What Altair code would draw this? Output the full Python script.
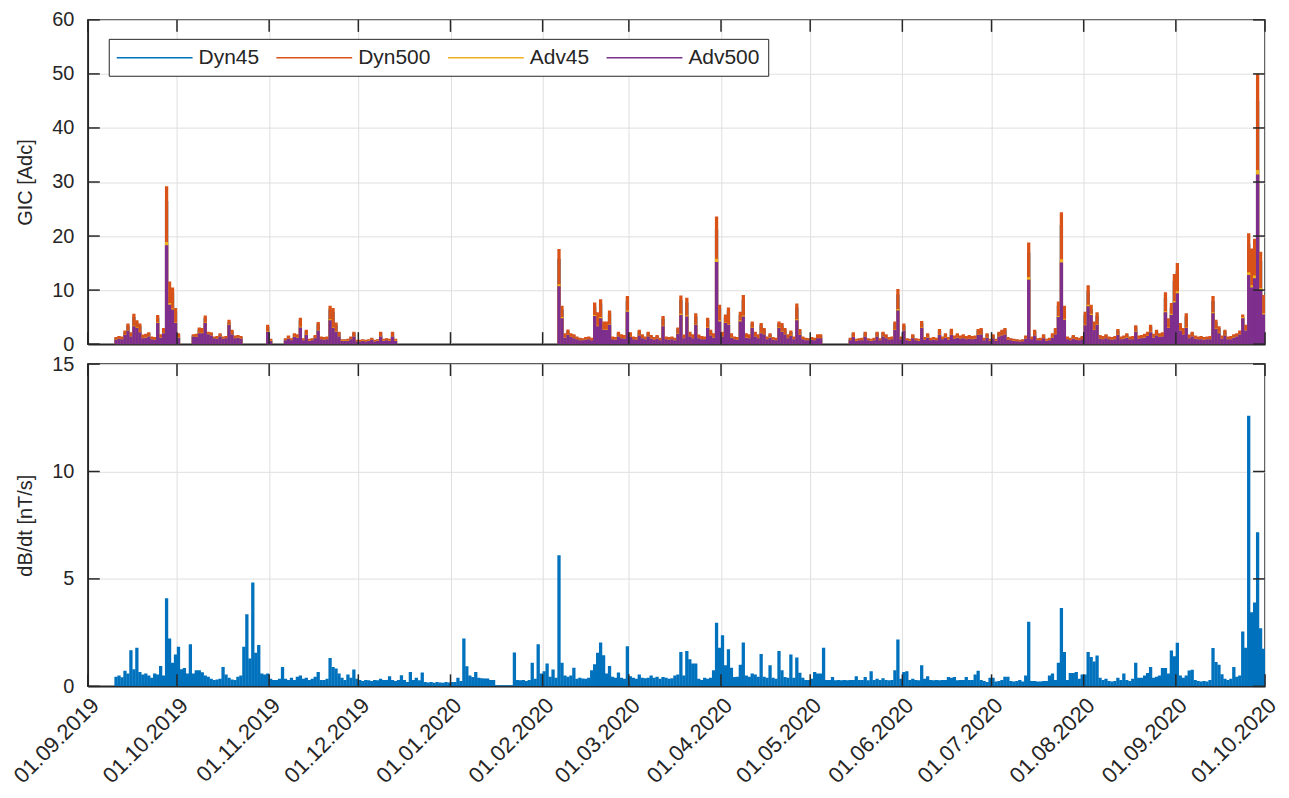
import altair as alt
import pandas as pd

FONT = "Liberation Sans"
INK = "#262626"
W = 1180
H_TOP = 325
H_BOT = 323

SERIES = ["Dyn45", "Dyn500", "Adv45", "Adv500"]
COLORS = ["#0072BD", "#D95319", "#EDB120", "#7E2F8E"]
DBDT_COLOR = "#0072BD"

month_ticks = ["2019-09-01", "2019-10-01", "2019-11-01", "2019-12-01", "2020-01-01",
               "2020-02-01", "2020-03-01", "2020-04-01", "2020-05-01", "2020-06-01",
               "2020-07-01", "2020-08-01", "2020-09-01", "2020-10-01"]
gic_ticks = [0, 10, 20, 30, 40, 50, 60]
dbdt_ticks = [0, 5, 10, 15]

# ---------------- GIC daily peak values (segments with data) ----------------
gic_seg_starts = ["2019-09-10", "2019-10-06", "2019-10-31", "2019-11-06", "2020-02-06", "2020-05-14"]

dyn500_a = [1.3, 1.5, 1.4, 2.5, 3.8, 2.2, 5.6, 4.4, 3.8, 1.8,
            1.9, 2.2, 1.4, 1.3, 5.4, 1.85, 3.0, 29.2, 11.6, 10.5,
            6.7, 2.0]
adv500_a = [0.8, 1.0, 0.9, 1.7, 2.5, 1.4, 3.3, 3.0, 2.2, 1.1,
            1.2, 1.4, 0.9, 0.8, 3.9, 1.2, 2.0, 18.3, 7.3, 6.4,
            3.9, 1.2]
adv45_a = [0.85, 1.05, 0.95, 1.75, 2.6, 1.45, 3.4, 3.1, 2.3, 1.15,
           1.25, 1.45, 0.95, 0.85, 4.0, 1.25, 2.1, 18.9, 7.6, 6.6,
           4.0, 1.25]
dyn45_a = [1.2, 1.35, 1.25, 2.2, 3.4, 2.0, 5.0, 4.0, 3.4, 1.6,
           1.7, 2.0, 1.25, 1.2, 4.9, 1.65, 2.7, 26.5, 10.5, 9.5,
           6.0, 1.8]

dyn500_b = [1.85, 1.9, 3.1, 3.0, 5.3, 2.3, 2.2, 1.4, 1.5, 2.0, 1.4, 1.5, 4.5, 2.65, 1.6, 1.7, 1.5]
adv500_b = [1.4, 1.3, 2.0, 2.0, 3.9, 1.85, 1.6, 1.1, 1.0, 1.4, 1.0, 1.1, 3.6, 1.8, 1.1, 1.2, 1.0]
adv45_b = [1.45, 1.35, 2.1, 2.1, 4.0, 1.9, 1.65, 1.15, 1.05, 1.45, 1.05, 1.15, 3.7, 1.85, 1.15, 1.25, 1.05]
dyn45_b = [1.65, 1.7, 2.8, 2.7, 4.8, 2.1, 2.0, 1.25, 1.35, 1.8, 1.25, 1.35, 4.0, 2.4, 1.45, 1.5, 1.35]

dyn500_c = [3.6, 1.0]
adv500_c = [2.3, 0.6]
adv45_c = [2.4, 0.65]
dyn45_c = [3.2, 0.9]

dyn500_d = [1.1, 1.6, 1.1, 2.0, 1.85, 4.9, 1.1, 2.65, 1.0, 1.1,
            1.7, 4.1, 1.4, 1.3, 1.4, 7.1, 6.7, 4.0, 2.3, 0.9,
            0.9, 1.0, 1.4, 2.3, 0.8, 0.8, 0.9, 0.8, 0.9, 1.2,
            0.8, 0.9, 2.3, 1.0, 1.1, 1.0, 2.3, 1.0]
adv500_d = [0.7, 1.0, 0.7, 1.3, 1.2, 3.1, 0.7, 1.7, 0.6, 0.7,
            1.1, 2.5, 0.9, 0.8, 0.9, 4.4, 3.0, 2.3, 1.4, 0.6,
            0.6, 0.6, 0.9, 1.4, 0.5, 0.5, 0.6, 0.5, 0.6, 0.8,
            0.5, 0.6, 1.4, 0.6, 0.7, 0.6, 1.4, 0.6]
adv45_d = [0.75, 1.05, 0.75, 1.35, 1.25, 3.2, 0.75, 1.75, 0.65, 0.75,
           1.15, 2.6, 0.95, 0.85, 0.95, 4.6, 3.1, 2.4, 1.45, 0.65,
           0.65, 0.65, 0.95, 1.45, 0.55, 0.55, 0.65, 0.55, 0.65, 0.85,
           0.55, 0.65, 1.45, 0.65, 0.75, 0.65, 1.45, 0.65]
dyn45_d = [1.0, 1.45, 1.0, 1.8, 1.65, 4.4, 1.0, 2.4, 0.9, 1.0,
           1.5, 3.7, 1.25, 1.2, 1.25, 6.4, 6.0, 3.6, 2.1, 0.8,
           0.8, 0.9, 1.25, 2.1, 0.7, 0.7, 0.8, 0.7, 0.8, 1.1,
           0.7, 0.8, 2.1, 0.9, 1.0, 0.9, 2.1, 0.9]

dyn500_e = [17.6, 7.1, 2.0, 2.7, 2.0, 1.85, 1.4, 1.2, 1.1, 1.3,
            1.4, 1.2, 7.7, 5.9, 8.3, 4.2, 4.2, 6.2, 1.4, 1.3,
            2.3, 1.85, 1.7, 8.9, 2.2, 1.4, 1.3, 2.65, 1.85, 1.4,
            2.3, 1.7, 1.3, 1.7, 1.2, 5.2, 1.4, 1.3, 1.4, 1.2,
            3.1, 9.0, 1.8, 8.6, 2.3, 1.85, 5.7, 1.8, 1.5, 1.4,
            4.9, 2.65, 2.0, 23.6, 7.3, 2.3, 5.5, 6.8, 2.0, 1.4,
            1.3, 6.0, 9.1, 2.0, 1.85, 4.2, 2.3, 1.85, 3.9, 3.0,
            1.4, 2.0, 1.3, 1.2, 4.2, 3.9, 3.0, 1.85, 2.5, 1.4,
            7.5, 2.8, 1.4, 1.2, 1.1, 1.3, 1.2, 1.85, 1.85]
adv500_e = [10.7, 4.8, 1.2, 1.7, 1.3, 1.1, 0.9, 0.7, 0.7, 0.8,
            0.9, 0.7, 5.2, 3.3, 4.8, 2.65, 2.6, 3.6, 0.9, 0.8,
            1.4, 1.1, 1.0, 6.0, 1.3, 0.9, 0.8, 1.6, 1.1, 0.9,
            1.4, 1.0, 0.8, 1.0, 0.7, 3.3, 0.9, 0.8, 0.9, 0.7,
            1.9, 5.4, 1.1, 5.1, 1.4, 1.1, 3.6, 1.1, 0.9, 0.9,
            3.0, 1.6, 1.2, 15.2, 4.2, 1.4, 3.9, 3.6, 1.2, 0.9,
            0.8, 4.2, 5.1, 1.2, 1.1, 3.0, 1.4, 1.1, 2.0, 1.8,
            0.9, 1.2, 0.8, 0.7, 3.0, 2.3, 1.8, 1.1, 1.5, 0.9,
            4.4, 1.7, 0.9, 0.7, 0.7, 0.8, 0.7, 1.1, 1.1]
adv45_e = [11.1, 5.0, 1.25, 1.75, 1.35, 1.15, 0.95, 0.75, 0.75, 0.85,
           0.95, 0.75, 5.4, 3.4, 5.0, 2.75, 2.7, 3.7, 0.95, 0.85,
           1.45, 1.15, 1.05, 6.2, 1.35, 0.95, 0.85, 1.65, 1.15, 0.95,
           1.45, 1.05, 0.85, 1.05, 0.75, 3.4, 0.95, 0.85, 0.95, 0.75,
           2.0, 5.6, 1.15, 5.3, 1.45, 1.15, 3.7, 1.15, 0.95, 0.95,
           3.1, 1.65, 1.25, 15.8, 4.4, 1.45, 4.0, 3.7, 1.25, 0.95,
           0.85, 4.4, 5.3, 1.25, 1.15, 3.1, 1.45, 1.15, 2.1, 1.85,
           0.95, 1.25, 0.85, 0.75, 3.1, 2.4, 1.85, 1.15, 1.55, 0.95,
           4.6, 1.75, 0.95, 0.75, 0.75, 0.85, 0.75, 1.15, 1.15]
dyn45_e = [15.8, 6.4, 1.8, 2.4, 1.8, 1.65, 1.25, 1.1, 1.0, 1.15,
           1.25, 1.1, 6.9, 5.3, 7.5, 3.8, 3.8, 5.6, 1.25, 1.15,
           2.1, 1.65, 1.5, 8.0, 2.0, 1.25, 1.15, 2.4, 1.65, 1.25,
           2.1, 1.5, 1.15, 1.5, 1.1, 4.7, 1.25, 1.15, 1.25, 1.1,
           2.8, 8.1, 1.6, 7.7, 2.1, 1.65, 5.1, 1.6, 1.35, 1.25,
           4.4, 2.4, 1.8, 21.2, 6.6, 2.1, 5.0, 6.1, 1.8, 1.25,
           1.15, 5.4, 8.2, 1.8, 1.65, 3.8, 2.1, 1.65, 3.5, 2.7,
           1.25, 1.8, 1.15, 1.1, 3.8, 3.5, 2.7, 1.65, 2.25, 1.25,
           6.8, 2.5, 1.25, 1.1, 1.0, 1.15, 1.1, 1.65, 1.65]

dyn500_f = [1.2, 2.2, 1.0, 1.1, 1.2, 2.3, 1.1, 1.0, 1.2, 2.3,
            1.1, 2.3, 1.85, 1.3, 1.4, 4.2, 10.2, 1.4, 3.8, 1.1,
            1.0, 1.85, 1.1, 1.0, 4.3, 1.3, 2.0, 1.2, 1.3, 1.2,
            2.8, 1.4, 2.0, 1.3, 2.85, 1.6, 2.0, 1.6, 1.85, 1.5,
            1.7, 1.5, 1.6, 2.8, 3.0, 1.2, 2.0, 1.0, 1.85, 1.0,
            2.3, 2.65, 3.0, 1.3, 1.1, 1.0, 0.9, 0.8, 0.9, 1.6,
            18.8, 1.4, 2.65, 1.1, 1.2, 1.85, 1.0, 1.2, 2.0, 3.0,
            7.9, 24.4, 7.1, 1.4, 1.2, 1.7, 1.3, 1.2, 1.5, 6.0,
            10.9, 7.3, 4.2, 5.9, 1.7, 1.5, 1.85, 1.4, 1.3, 1.5,
            2.8, 1.4, 1.6, 2.0, 1.4, 1.5, 3.5, 1.6, 1.7, 1.9,
            2.3, 3.6, 1.9, 2.65, 2.0, 2.2, 9.6, 4.8, 7.6, 13.0,
            15.0, 3.9, 3.0, 5.7, 1.8, 2.3, 1.6, 1.4, 1.5, 1.3,
            1.4, 1.5, 8.9, 4.5, 3.3, 1.6, 2.65, 1.4, 1.5, 1.85,
            2.0, 2.5, 5.5, 3.6, 20.5, 17.7, 19.5, 50.0, 17.1, 9.1]
adv500_f = [0.7, 1.3, 0.6, 0.7, 0.7, 1.4, 0.7, 0.6, 0.7, 1.4,
            0.7, 1.4, 1.1, 0.8, 0.9, 2.6, 6.2, 0.9, 2.5, 0.7,
            0.6, 1.1, 0.7, 0.6, 3.0, 0.8, 1.2, 0.7, 0.8, 0.7,
            1.7, 0.9, 1.2, 0.8, 1.7, 1.0, 1.2, 1.0, 1.1, 0.9,
            1.0, 0.9, 1.0, 1.7, 1.8, 0.7, 1.2, 0.6, 1.1, 0.6,
            1.4, 1.6, 1.8, 0.8, 0.7, 0.6, 0.55, 0.5, 0.55, 1.0,
            11.9, 0.9, 1.6, 0.7, 0.7, 1.1, 0.6, 0.7, 1.2, 1.8,
            5.0, 15.1, 4.5, 0.9, 0.7, 1.0, 0.8, 0.7, 0.9, 3.5,
            7.0, 5.4, 2.6, 3.6, 1.0, 0.9, 1.1, 0.9, 0.8, 0.9,
            1.7, 0.9, 1.0, 1.2, 0.9, 0.9, 2.3, 1.0, 1.1, 1.2,
            1.5, 2.2, 1.2, 1.6, 1.3, 1.4, 5.9, 3.0, 5.4, 7.7,
            9.4, 2.5, 1.8, 3.0, 1.1, 1.4, 1.0, 0.9, 0.9, 0.8,
            0.9, 0.9, 5.7, 2.8, 2.0, 1.0, 1.6, 0.9, 0.9, 1.2,
            1.4, 1.8, 4.8, 2.5, 12.8, 10.5, 12.2, 31.4, 10.0, 5.5]
adv45_f = [0.75, 1.35, 0.65, 0.75, 0.75, 1.45, 0.75, 0.65, 0.75, 1.45,
           0.75, 1.45, 1.15, 0.85, 0.95, 2.7, 6.5, 0.95, 2.6, 0.75,
           0.65, 1.15, 0.75, 0.65, 3.1, 0.85, 1.25, 0.75, 0.85, 0.75,
           1.75, 0.95, 1.25, 0.85, 1.75, 1.05, 1.25, 1.05, 1.15, 0.95,
           1.05, 0.95, 1.05, 1.75, 1.85, 0.75, 1.25, 0.65, 1.15, 0.65,
           1.45, 1.65, 1.85, 0.85, 0.75, 0.65, 0.6, 0.55, 0.6, 1.05,
           12.4, 0.95, 1.65, 0.75, 0.75, 1.15, 0.65, 0.75, 1.25, 1.85,
           5.2, 15.7, 4.7, 0.95, 0.75, 1.05, 0.85, 0.75, 0.95, 3.6,
           7.3, 5.6, 2.7, 3.7, 1.05, 0.95, 1.15, 0.95, 0.85, 0.95,
           1.75, 0.95, 1.05, 1.25, 0.95, 0.95, 2.4, 1.05, 1.15, 1.25,
           1.55, 2.3, 1.25, 1.65, 1.35, 1.45, 6.1, 3.1, 5.6, 8.0,
           9.8, 2.6, 1.85, 3.1, 1.15, 1.45, 1.05, 0.95, 0.95, 0.85,
           0.95, 0.95, 5.9, 2.9, 2.1, 1.05, 1.65, 0.95, 0.95, 1.25,
           1.45, 1.85, 5.0, 2.6, 13.3, 10.9, 12.7, 32.2, 10.4, 5.7]
dyn45_f = [1.1, 2.0, 0.9, 1.0, 1.1, 2.1, 1.0, 0.9, 1.1, 2.1,
           1.0, 2.1, 1.65, 1.15, 1.25, 3.8, 9.2, 1.25, 3.4, 1.0,
           0.9, 1.65, 1.0, 0.9, 3.9, 1.15, 1.8, 1.1, 1.15, 1.1,
           2.5, 1.25, 1.8, 1.15, 2.55, 1.45, 1.8, 1.45, 1.65, 1.35,
           1.5, 1.35, 1.45, 2.5, 2.7, 1.1, 1.8, 0.9, 1.65, 0.9,
           2.1, 2.4, 2.7, 1.15, 1.0, 0.9, 0.8, 0.7, 0.8, 1.45,
           16.9, 1.25, 2.4, 1.0, 1.1, 1.65, 0.9, 1.1, 1.8, 2.7,
           7.1, 22.0, 6.4, 1.25, 1.1, 1.5, 1.15, 1.1, 1.35, 5.4,
           9.8, 6.6, 3.8, 5.3, 1.5, 1.35, 1.65, 1.25, 1.15, 1.35,
           2.5, 1.25, 1.45, 1.8, 1.25, 1.35, 3.2, 1.45, 1.5, 1.7,
           2.1, 3.2, 1.7, 2.4, 1.8, 2.0, 8.6, 4.3, 6.8, 11.7,
           13.5, 3.5, 2.7, 5.1, 1.6, 2.1, 1.45, 1.25, 1.35, 1.15,
           1.25, 1.35, 8.0, 4.0, 3.0, 1.45, 2.4, 1.25, 1.35, 1.65,
           1.8, 2.25, 5.0, 3.2, 18.5, 15.9, 17.6, 45.0, 15.4, 8.2]

gic_values = {
    "Dyn45": [dyn45_a, dyn45_b, dyn45_c, dyn45_d, dyn45_e, dyn45_f],
    "Dyn500": [dyn500_a, dyn500_b, dyn500_c, dyn500_d, dyn500_e, dyn500_f],
    "Adv45": [adv45_a, adv45_b, adv45_c, adv45_d, adv45_e, adv45_f],
    "Adv500": [adv500_a, adv500_b, adv500_c, adv500_d, adv500_e, adv500_f],
}

# ---------------- dB/dt daily peak values ----------------
dbdt_seg_starts = ["2019-09-10", "2020-01-22"]
dbdt_1 = [0.45, 0.5, 0.42, 0.72, 0.6, 1.68, 0.8, 1.79, 0.67, 0.55,
          0.6, 0.5, 0.4, 0.6, 0.55, 0.95, 0.5, 4.1, 2.23, 1.1,
          1.48, 1.84, 0.8, 0.85, 0.6, 1.96, 0.6, 0.75, 0.75, 0.65,
          0.5, 0.45, 0.35, 0.3, 0.32, 0.35, 0.9, 0.55, 0.4, 0.32,
          0.3, 0.45, 0.5, 1.84, 3.36, 1.3, 4.83, 1.56, 1.92, 0.6,
          0.55, 0.6, 0.35, 0.3, 0.3, 0.35, 0.9, 0.35, 0.3, 0.4,
          0.3, 0.45, 0.5, 0.35, 0.4, 0.3, 0.35, 0.45, 0.67, 0.3,
          0.3, 0.35, 1.32, 0.9, 0.83, 0.6, 0.4, 0.3, 0.55, 0.4,
          0.78, 0.35, 0.3, 0.25, 0.3, 0.28, 0.25, 0.3, 0.28, 0.35,
          0.3, 0.3, 0.47, 0.3, 0.25, 0.3, 0.52, 0.3, 0.2, 0.67,
          0.3, 0.4, 0.28, 0.64, 0.2, 0.18, 0.2, 0.17, 0.2, 0.18,
          0.17, 0.2, 0.18, 0.2, 0.2, 0.4, 0.25, 2.23, 0.93, 0.5,
          0.43, 0.67, 0.4, 0.38, 0.36, 0.36, 0.3, 0.3,
          0.05, 0.05, 0.05, 0.05, 0.05, 0.05]
dbdt_2 = [1.57, 0.3, 0.28, 0.3, 0.25, 0.3, 1.1, 0.35, 1.96, 0.6,
          0.7, 1.06, 0.45, 0.78, 0.4, 6.1, 1.1, 0.5, 0.45, 0.5,
          0.87, 0.35, 0.4, 0.36, 0.35, 0.4, 0.75, 1.03, 1.56, 2.04,
          1.45, 0.6, 0.95, 0.45, 0.4, 0.64, 0.4, 0.35, 1.87, 0.47,
          0.4, 0.35, 0.55, 0.4, 0.38, 0.4, 0.5, 0.4, 0.45, 0.35,
          0.43, 0.4, 0.35, 0.38, 0.5, 0.55, 1.6, 0.5, 1.65, 1.26,
          1.06, 1.06, 0.35, 0.3, 0.4, 0.35, 0.4, 0.75, 2.96, 1.8,
          2.38, 0.98, 1.73, 0.86, 0.43, 0.45, 1.0, 2.04, 0.5, 0.45,
          0.6, 0.55, 0.45, 1.5, 0.45, 0.4, 0.98, 0.4, 0.35, 1.65,
          0.75, 0.43, 0.4, 1.48, 0.4, 1.34, 0.63, 0.4, 0.3, 0.3,
          0.35, 0.67, 0.6, 0.6, 1.79, 0.3, 0.3, 0.43, 0.28, 0.3,
          0.28, 0.3, 0.28, 0.3, 0.3, 0.47, 0.3, 0.3, 0.43, 0.28,
          0.7, 0.3, 0.35, 0.3, 0.38, 0.3, 0.28, 0.3, 0.75, 2.18,
          0.35, 0.67, 0.7, 0.3, 0.35, 0.3, 0.28, 0.98, 0.35, 0.47,
          0.3, 0.28, 0.3, 0.28, 0.3, 0.3, 0.43, 0.4, 0.43, 0.28,
          0.3, 0.3, 0.43, 0.3, 0.3, 0.55, 0.72, 0.3, 0.25, 0.2,
          0.4, 0.4, 0.22, 0.25, 0.3, 0.45, 0.45, 0.25, 0.22, 0.25,
          0.3, 0.22, 0.5, 3.0, 0.25, 0.25, 0.22, 0.22, 0.25, 0.25,
          0.5, 0.6, 0.3, 1.1, 3.64, 1.6, 0.3, 0.62, 0.62, 0.67,
          0.35, 0.55, 0.55, 1.6, 1.36, 1.16, 1.44, 0.4, 0.3, 0.35,
          0.25, 0.22, 0.25, 0.4, 0.3, 0.6, 0.3, 0.25, 0.35, 1.1,
          0.4, 0.4, 0.5, 0.62, 0.9, 0.4, 0.45, 0.5, 0.85, 0.85,
          0.6, 1.67, 1.4, 2.03, 0.5, 0.4, 0.5, 0.74, 0.77, 0.3,
          0.25, 0.22, 0.25, 0.22, 0.3, 1.78, 1.13, 1.0, 0.56, 0.35,
          0.3, 0.35, 0.9, 0.45, 0.5, 2.55, 1.8, 12.6, 3.45, 3.9,
          7.17, 2.7, 1.75]


def day_rows(start, values, series):
    t0 = pd.Timestamp(start) + pd.Timedelta(hours=12)
    return [{"t": t0 + pd.Timedelta(days=i), "v": v, "series": series, "zero": 0.0}
            for i, v in enumerate(values)]


gic_rows = []
for s in SERIES:
    for start, vals in zip(gic_seg_starts, gic_values[s]):
        gic_rows += day_rows(start, vals, s)
gic_df = pd.DataFrame(gic_rows)

dbdt_rows = []
for start, vals in zip(dbdt_seg_starts, [dbdt_1, dbdt_2]):
    dbdt_rows += day_rows(start, vals, "dBdt")
dbdt_df = pd.DataFrame(dbdt_rows)


def dt(s):
    y, m, d = map(int, s.split("-"))
    return alt.DateTime(year=y, month=m, date=d)


tick_dt = [dt(s) for s in month_ticks]
x_scale = alt.Scale(domain=[dt(month_ticks[0]), dt(month_ticks[-1])], nice=False)

top_xaxis = alt.Axis(values=tick_dt, labels=False, ticks=False, title=None, grid=True, domain=True)
bot_xaxis = alt.Axis(values=tick_dt, format="%d.%m.%Y", labelAngle=315, labelAlign="right",
                     labelBaseline="top", labelPadding=8, labelFlush=False, labelFontSize=22,
                     labelOverlap=False, ticks=False, title=None, grid=True)
gic_yscale = alt.Scale(domain=[0, 60], nice=False)
dbdt_yscale = alt.Scale(domain=[0, 15], nice=False)
gic_yaxis = alt.Axis(values=gic_ticks, title="GIC [Adc]", labelFlush=False, ticks=False, grid=True)
dbdt_yaxis = alt.Axis(values=dbdt_ticks, title="dB/dt [nT/s]", labelFlush=False, ticks=False, grid=True)

# long legend line drawn as a custom path symbol (76 px long)
legend = alt.Legend(title=None, orient="none", legendX=21, legendY=19,
                    direction="horizontal", columns=4,
                    symbolType="M-3.8,0H3.8", symbolSize=400, symbolStrokeWidth=1.5,
                    symbolOffset=27, labelOffset=33,
                    labelFontSize=21, labelFont=FONT, labelColor=INK,
                    columnPadding=14, strokeColor=INK, fillColor="white", padding=8,
                    cornerRadius=0)
color_enc = alt.Color("series:N", scale=alt.Scale(domain=SERIES, range=COLORS), legend=legend)

gic_layers = []
for s in SERIES:
    gic_layers.append(
        alt.Chart(gic_df).transform_filter(alt.datum.series == s)
        .mark_rule(strokeWidth=3.3, clip=True)
        .encode(x=alt.X("t:T", scale=x_scale, axis=top_xaxis),
                y=alt.Y("v:Q", scale=gic_yscale, axis=gic_yaxis),
                y2="zero:Q",
                color=color_enc)
    )


def tick_layers(yticks, yscale, yaxis, xaxis, h):
    yt = pd.DataFrame({"v": yticks})
    xt = pd.DataFrame({"t": pd.to_datetime(month_ticks)})
    tk = dict(color=INK, strokeWidth=1.5)
    left = alt.Chart(yt).mark_rule(**tk).encode(
        y=alt.Y("v:Q", scale=yscale, axis=yaxis), x=alt.value(0), x2=alt.value(12))
    right = alt.Chart(yt).mark_rule(**tk).encode(
        y=alt.Y("v:Q", scale=yscale, axis=yaxis), x=alt.value(W - 12), x2=alt.value(W))
    bottom = alt.Chart(xt).mark_rule(**tk).encode(
        x=alt.X("t:T", scale=x_scale, axis=xaxis), y=alt.value(h - 12), y2=alt.value(h))
    top = alt.Chart(xt).mark_rule(**tk).encode(
        x=alt.X("t:T", scale=x_scale, axis=xaxis), y=alt.value(0), y2=alt.value(12))
    return [left, right, bottom, top]


top = alt.layer(*gic_layers, *tick_layers(gic_ticks, gic_yscale, gic_yaxis, top_xaxis, H_TOP)).properties(
    width=W, height=H_TOP)

dbdt_layer = alt.Chart(dbdt_df).mark_rule(strokeWidth=3.3, clip=True, color=DBDT_COLOR).encode(
    x=alt.X("t:T", scale=x_scale, axis=bot_xaxis),
    y=alt.Y("v:Q", scale=dbdt_yscale, axis=dbdt_yaxis),
    y2="zero:Q")

bottom = alt.layer(dbdt_layer, *tick_layers(dbdt_ticks, dbdt_yscale, dbdt_yaxis, bot_xaxis, H_BOT)).properties(
    width=W, height=H_BOT)

chart = (
    alt.vconcat(top, bottom, spacing=20, bounds="flush")
    .properties(padding={"left": 0, "right": 0, "top": 0, "bottom": 0})
    .configure_view(stroke=INK, strokeWidth=1.5)
    .configure_axis(labelFont=FONT, labelFontSize=20, labelColor=INK,
                    titleFont=FONT, titleFontSize=20, titleFontWeight="normal", titleColor=INK,
                    domainColor=INK, domainWidth=1.5, gridColor="#dfdfdf", gridWidth=1,
                    labelPadding=14, titlePadding=16)
)

chart.save("out.html", embed_options={"renderer": "svg", "actions": False})
